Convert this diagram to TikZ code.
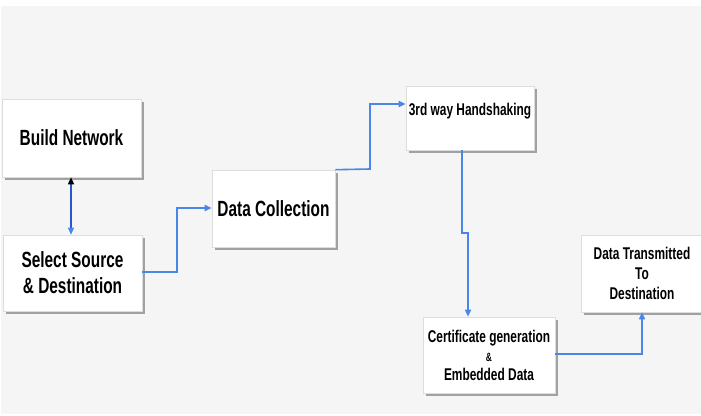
\documentclass[tikz,border=0pt]{standalone}
\usepackage{fontspec}
\newfontfamily\boxfont{Liberation Sans}[FakeStretch=0.7]
\usepackage{tikz}
\usetikzlibrary{arrows.meta, shadows, calc}

\definecolor{bggray}{HTML}{F5F5F5}
\definecolor{linkblue}{HTML}{4A86E8}
\definecolor{darkblue}{HTML}{2A55D0}
\definecolor{rimgray}{HTML}{DDDDDD}

\begin{document}
\begin{tikzpicture}[x=1pt, y=-1pt,
	stepbox/.style={draw=rimgray, fill=white, line width=0.6pt, align=center, inner sep=0pt,
		font=\boxfont\bfseries,
		drop shadow={shadow xshift=2.5pt, shadow yshift=-3pt, fill=black!45, opacity=0.8}},
	big/.style={font=\boxfont\bfseries\fontsize{22}{26}\selectfont},
	small/.style={font=\boxfont\bfseries\fontsize{17}{20}\selectfont},
	link/.style={draw=linkblue, line width=1.6pt, -{Triangle[length=7pt, width=6pt]}}]

	% background
	\useasboundingbox (0,0) rectangle (701,415);
	\fill[white]		(0,0) rectangle (701,415);
	\fill[bggray]		(1,6) rectangle (701,414);

	% boxes
	\node[stepbox, big, minimum width=139pt, minimum height=78pt] (build) at (71.5,138) {Build Network};
	\node[stepbox, big, minimum width=139pt, minimum height=76pt] (select) at (72.5,273) {Select Source\\ \& Destination};
	\node[stepbox, big, minimum width=123pt, minimum height=77pt] (collect) at (273.5,208.5) {Data Collection};
	\node[stepbox, small, minimum width=128pt, minimum height=64pt] (hand) at (470,118) {3rd way Handshaking\\[-8pt] \strut};
	\node[stepbox, small, minimum width=132pt, minimum height=76pt] (cert) at (489,355)
		{Certificate generation\\[-1pt] {\fontsize{12}{14}\selectfont\&}\\[-1pt] Embedded Data};
	\node[stepbox, small, minimum width=122pt, minimum height=77pt] (dest) at (642,273.5) {Data Transmitted\\ To\\ Destination};

	% connectors
	\draw[darkblue, line width=1.2pt, {Triangle[length=7pt, width=6pt, color=black]}-{Triangle[length=7pt, width=6pt, color=linkblue]}]
		(build.south -| 71,0) -- (select.north -| 71,0);
	\draw[link]	(select.east |- 0,272) -| (177,208) -- (collect.west |- 0,208);
	\draw[link]	(collect.north east) -- (370,169) |- (hand.west |- 0,104);
	\draw[link]	(hand.south -| 462,0) -- (462,233) -| (cert.north -| 468,0);
	\draw[link]	(cert.east |- 0,354) -| (dest.south -| 642,0);
\end{tikzpicture}
\end{document}
